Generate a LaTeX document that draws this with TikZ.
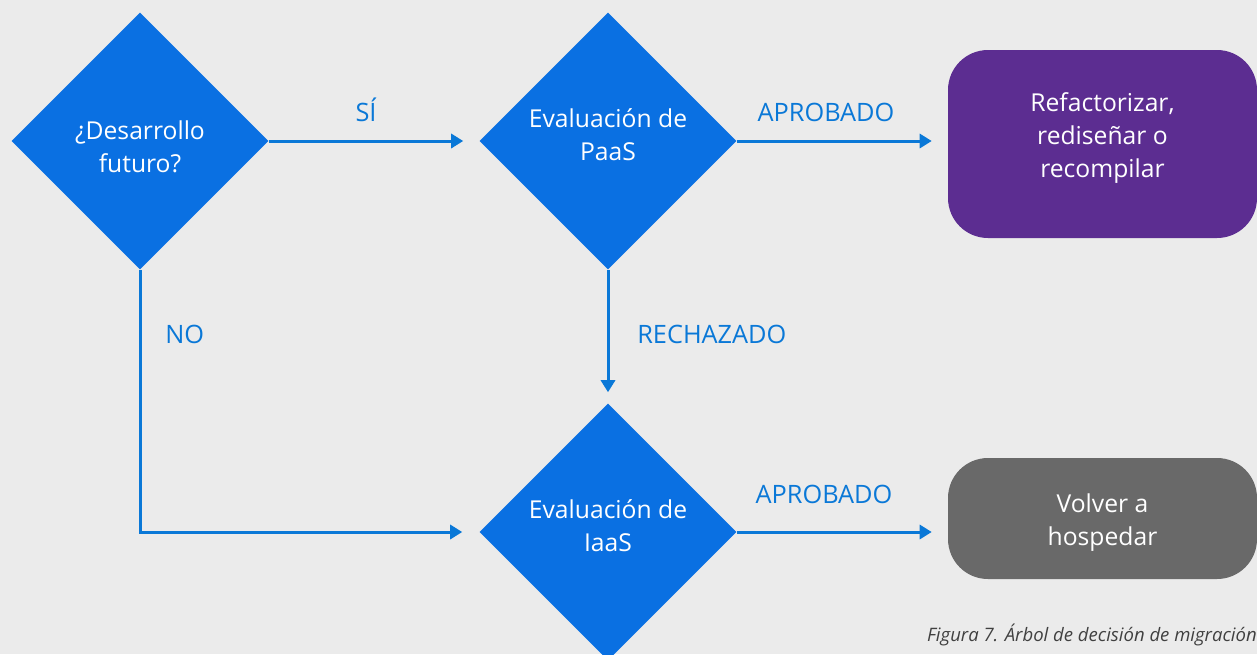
\documentclass[tikz,border=0pt]{standalone}
\usepackage{fontspec}
\setmainfont{Open Sans}
\usetikzlibrary{arrows.meta,shapes.geometric,calc}
\definecolor{bg}{HTML}{EBEBEB}
\definecolor{dblue}{HTML}{0A70E2}
\definecolor{lblue}{HTML}{0A78D7}
\definecolor{mpurple}{HTML}{5C2D91}
\definecolor{mgray}{HTML}{696969}
\definecolor{capgray}{HTML}{404040}
\begin{document}
\begin{tikzpicture}[x=0.75pt,y=-0.75pt,
  dec/.style={diamond, fill=dblue, draw=none, inner sep=0pt, minimum width=192.75pt, minimum height=192.75pt},
  outbox/.style={rectangle, rounded corners=30pt, draw=none, inner sep=0pt, minimum width=231.75pt},
  dtext/.style={text=white, font=\fontsize{18.5}{24.5}\selectfont, align=center, inner sep=0pt},
  lab/.style={text=lblue, font=\fontsize{19}{24}\selectfont, inner sep=0pt},
  conn/.style={draw=lblue, line width=2.25pt, -{Triangle[length=9pt,width=10.5pt]}}
]
\useasboundingbox (0,0) rectangle (1257,654);
\fill[bg] (0,0) rectangle (1257,654);

% shapes
\node[dec] (d1) at (140,141) {};
\node[dec] (d2) at (608,141) {};
\node[dec] (d3) at (608,532) {};
\node[outbox, fill=mpurple, minimum height=141pt] (r1) at (1102.5,144) {};
\node[outbox, fill=mgray, minimum height=90.75pt] (r2) at (1102.5,518.5) {};

% texts in shapes (base anchor = baseline of the last line)
\node[dtext, anchor=base] (t1) at (140,172) {¿Desarrollo\\futuro?};
\node[dtext, anchor=base] (t2) at (608,160) {Evaluación de\\PaaS};
\node[dtext, anchor=base] (t3) at (608,551) {Evaluación de\\IaaS};
\node[dtext, anchor=base] (t4) at (1102.5,177) {Refactorizar,\\rediseñar o\\recompilar};
\node[dtext, anchor=base] (t5) at (1102.5,545) {Volver a\\hospedar};

% connectors
\coordinate (e1) at ($(d2.west)+(-16,0)$);
\coordinate (e2) at ($(d2.east -| r1.west)+(-16,0)$);
\coordinate (e3) at ($(d3.north)+(0,-11)$);
\coordinate (e4) at ($(d3.west)+(-17,0)$);
\coordinate (e5) at ($(d3.east -| r2.west)+(-16,0)$);
\draw[conn] (d1.east) -- (e1);
\draw[conn] (d2.east) -- (e2);
\draw[conn] (d2.south) -- (e3);
\draw[conn] (d1.south) |- (e4);
\draw[conn] (d3.east) -- (e5);

% labels
\node[lab, anchor=base] (ls) at (366,121) {SÍ};
\node[lab, anchor=base] (la1) at (826,121) {APROBADO};
\node[lab, anchor=base west] (lr) at (637,343) {RECHAZADO};
\node[lab, anchor=base west] (ln) at (165,343) {NO};
\node[lab, anchor=base] (la2) at (824,503) {APROBADO};

% caption
\node[anchor=base east, font=\itshape\fontsize{13.9}{16}\selectfont, text=capgray, inner sep=0pt] (cap) at (1257,641) {Figura 7. Árbol de decisión de migración};
\end{tikzpicture}
\end{document}
